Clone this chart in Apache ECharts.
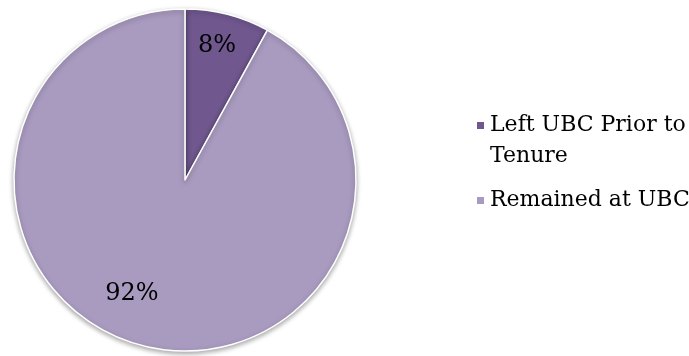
<!DOCTYPE html>
<html>
<head>
<meta charset="utf-8">
<script src="https://cdn.jsdelivr.net/npm/echarts@6/dist/echarts.min.js"></script>
<style>
  html, body { margin: 0; padding: 0; background: #ffffff; }
  #main { width: 689px; height: 356px; }
</style>
</head>
<body>
<div id="main"></div>
<script>
// pie data
var categories = ['Left UBC Prior to Tenure', 'Remained at UBC'];
var values = [8, 92];
var colors = ['#70588f', '#a99bc0'];

var chart = echarts.init(document.getElementById('main'));

var FONT = '"DejaVu Serif", "Liberation Serif", serif';

var seriesData = categories.map(function (name, i) {
  return { name: name, value: values[i], itemStyle: { color: colors[i] } };
});

// where the percent labels sit (as in the original picture)
var labelPos = [[217, 46], [132, 294]];

chart.setOption({
  animation: false,
  legend: [{
    orient: 'vertical',
    left: 470,
    top: 74,
    icon: 'rect',
    itemWidth: 9,
    itemHeight: 9,
    data: [categories[0]],
    // blank first line so the text block centres on "Left UBC Prior to"
    formatter: function () {
      return ' \nLeft UBC Prior to\nTenure';
    },
    textStyle: {
      fontFamily: FONT,
      fontSize: 22,
      color: '#000000',
      lineHeight: 31
    }
  }, {
    orient: 'vertical',
    left: 470,
    top: 180,
    icon: 'rect',
    itemWidth: 9,
    itemHeight: 9,
    data: [categories[1]],
    textStyle: {
      fontFamily: FONT,
      fontSize: 22,
      color: '#000000',
      lineHeight: 31
    }
  }],
  series: [{
    type: 'pie',
    center: [185, 180],
    radius: 171,
    startAngle: 90,
    clockwise: true,
    data: seriesData,
    itemStyle: {
      borderColor: '#ffffff',
      borderWidth: 1.5,
      shadowColor: 'rgba(0,0,0,0.35)',
      shadowBlur: 5,
      shadowOffsetY: 2
    },
    label: {
      show: true,
      position: 'inside',
      formatter: '{c}%',
      fontFamily: FONT,
      fontSize: 24,
      color: '#000000'
    },
    labelLine: { show: false },
    labelLayout: function (params) {
      var p = labelPos[params.dataIndex];
      return { x: p[0], y: p[1], align: 'center', verticalAlign: 'middle' };
    },
    emphasis: { disabled: true }
  }]
});
</script>
</body>
</html>
